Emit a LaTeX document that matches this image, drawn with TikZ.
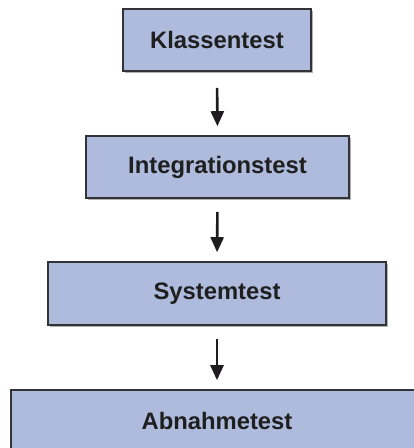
\documentclass[tikz,border=0pt]{standalone}
\usepackage{fontspec}
\setmainfont{Liberation Sans}
\usetikzlibrary{arrows.meta}
\definecolor{boxfill}{RGB}{174,187,220}
\definecolor{boxline}{RGB}{50,50,55}
\definecolor{arrowcol}{RGB}{30,28,30}
\tikzset{
  stage/.style={draw=boxline, line width=1.6pt, fill=boxfill, rectangle,
    minimum height=62pt, inner sep=0pt,
    font=\fontsize{23.8}{28}\selectfont\bfseries, text=black!88},
  flow/.style={draw=arrowcol, line width=2.6pt,
    -{Triangle[width=13pt,length=15pt]}, shorten <=13pt, shorten >=9pt}
}
\begin{document}
\begin{tikzpicture}[x=1pt,y=-1pt]
  \useasboundingbox (0,0) rectangle (414,448);
  % soft grey shadow along the lower and right edges
  \foreach \cx/\cy/\w/\h in {217/40/188/62, 217.5/167/263/62, 217/293.5/338/63, 217/421/412/62}{
    \fill[gray!60] (\cx-\w/2+1.5,\cy-\h/2+1.5) rectangle (\cx+\w/2+1.5,\cy+\h/2+1.5);
  }
  \node[stage, minimum width=188pt] (klasse) at (217,40) {Klassentest};
  \node[stage, minimum width=263pt] (integ) at (217.5,167) {Integrationstest};
  \node[stage, minimum width=338pt, minimum height=63pt] (system) at (217,293.5) {Systemtest};
  \node[stage, minimum width=412pt] (abnahme) at (217,421) {Abnahmetest};
  \draw[flow, shorten <=16pt] (klasse.south) -- (integ.north);
  \draw[flow] (integ.south) -- (system.north);
  \draw[flow] (system.south) -- (abnahme.north);
\end{tikzpicture}
\end{document}
